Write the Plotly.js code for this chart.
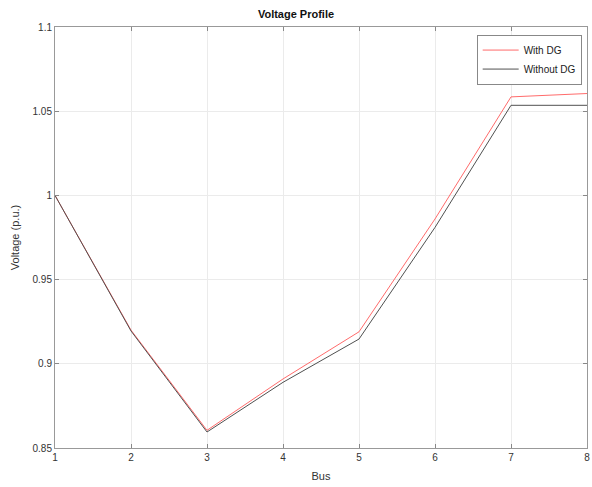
<!DOCTYPE html>
<html>
<head>
<meta charset="utf-8">
<script src="https://cdn.plot.ly/plotly-3.0.1.min.js"></script>
<style>html,body{margin:0;padding:0;background:#fff;}#chart{width:592px;height:487px;}</style>
</head>
<body>
<div id="chart"></div>
<script>
const buses = [1, 2, 3, 4, 5, 6, 7, 8];
const withDG = [1.0, 0.92, 0.8605, 0.891, 0.919, 0.986, 1.0585, 1.0605];
const withoutDG = [1.0, 0.9195, 0.8595, 0.889, 0.9147, 0.981, 1.0535, 1.0535];
const yTickVals = [0.85, 0.9, 0.95, 1, 1.05, 1.1];
const yTickText = ["0.85", "0.9", "0.95", "1", "1.05", "1.1"];
const xTickVals = [1, 2, 3, 4, 5, 6, 7, 8];

const font = {family: "Liberation Sans, Arial, sans-serif", size: 10, color: "#333"};

const traces = [
  {x: buses, y: withDG, mode: "lines", name: "With DG", line: {color: "#ff6b6b", width: 1}},
  {x: buses, y: withoutDG, mode: "lines", name: "Without DG", line: {color: "#505050", width: 1}}
];

const layout = {
  width: 592, height: 487,
  margin: {l: 55, r: 5, t: 27, b: 39},
  paper_bgcolor: "#fff", plot_bgcolor: "#fff",
  font: font,
  showlegend: true,
  title: {text: "<b>Voltage Profile</b>", font: {family: font.family, size: 11, color: "#111"}, x: 0.5, xanchor: "center", y: 1, yanchor: "top", pad: {t: 10}},
  xaxis: {
    range: [1, 8], tickvals: xTickVals, ticks: "inside", ticklen: 4, tickcolor: "#888",
    showline: true, linecolor: "#999", linewidth: 1, mirror: "ticks",
    showgrid: true, gridcolor: "#ebebeb", zeroline: false,
    tickfont: {size: 10, color: "#333"},
    title: {text: "Bus", font: {size: 11, color: "#333"}, standoff: 10}
  },
  yaxis: {
    range: [0.85, 1.1], tickvals: yTickVals, ticktext: yTickText, ticks: "inside", ticklen: 4, tickcolor: "#888",
    showline: true, linecolor: "#999", linewidth: 1, mirror: "ticks",
    showgrid: true, gridcolor: "#ebebeb", zeroline: false,
    tickfont: {size: 10, color: "#333"},
    title: {text: "Voltage (p.u.)", font: {size: 11, color: "#333"}, standoff: 10}
  },
  legend: {
    x: 0.99, y: 0.982, xanchor: "right", yanchor: "top",
    bgcolor: "#fff", bordercolor: "#888", borderwidth: 1,
    font: {size: 10, color: "#222"}, tracegroupgap: 0, itemwidth: 36
  }
};

Plotly.newPlot("chart", traces, layout, {displayModeBar: false, staticPlot: true});
</script>
</body>
</html>
